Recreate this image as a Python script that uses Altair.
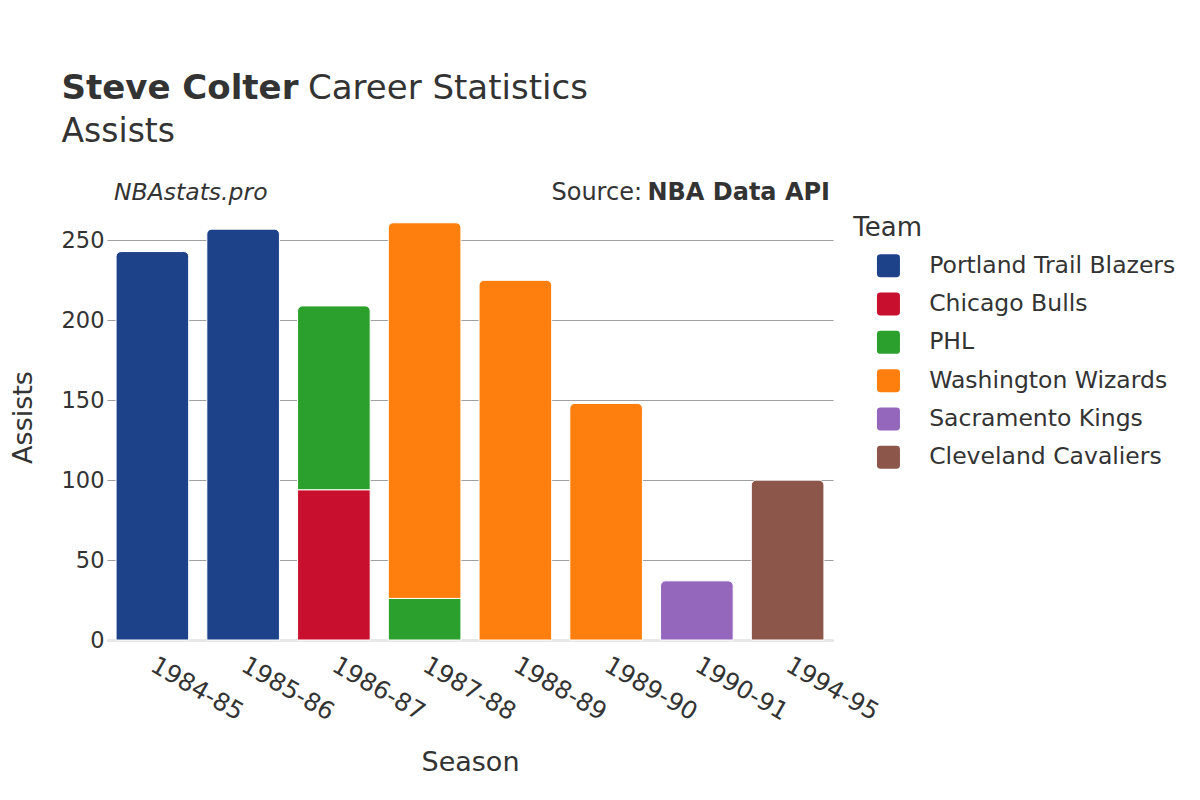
import altair as alt
import pandas as pd

# ---- data ----
seasons = ["1984-85", "1985-86", "1986-87", "1987-88", "1988-89", "1989-90", "1990-91", "1994-95"]
teams = ["Portland Trail Blazers", "Chicago Bulls", "PHL", "Washington Wizards",
         "Sacramento Kings", "Cleveland Cavaliers"]
team_colors = ["#1d428a", "#c8102e", "#2ca02c", "#ff7f0e", "#9467bd", "#8c564b"]

row_season = ["1984-85", "1985-86", "1986-87", "1986-87", "1987-88", "1987-88",
              "1988-89", "1989-90", "1990-91", "1994-95"]
row_team = ["Portland Trail Blazers", "Portland Trail Blazers", "Chicago Bulls", "PHL",
            "PHL", "Washington Wizards", "Washington Wizards", "Washington Wizards",
            "Sacramento Kings", "Cleveland Cavaliers"]
row_assists = [243, 257, 94, 115, 26, 235, 225, 148, 37, 100]

y_ticks = [0, 50, 100, 150, 200, 250]

# ---- table ----
df = pd.DataFrame({"Season": row_season, "Team": row_team, "Assists": row_assists})
df["order"] = df["Team"].map({t: i for i, t in enumerate(teams)})
last = df.groupby("Season")["order"].transform("max")
df["is_top"] = (df["order"] == last).astype(int)

FONT = "DejaVu Sans"
TXT = "#333333"
W, H = 726, 446
YMAX = 279

base = alt.Chart(df).transform_stack(
    stack="Assists", as_=["y0", "y1"], groupby=["Season"],
    sort=[alt.SortField("order", order="ascending")]
)

x_enc = alt.X("Season:N", sort=seasons, title="Season",
              scale=alt.Scale(paddingInner=0.2, paddingOuter=0.1),
              axis=alt.Axis(labelAngle=30, labelAlign="left", labelBaseline="top",
                            labelPadding=13, labelOffset=6, labelFontSize=24.5,
                            ticks=False, domainColor="#e8e8e8", domainWidth=3,
                            titleFontSize=27, titleFontWeight="normal",
                            titleX=W / 2, titleY=130, titleBaseline="alphabetic",
                            titleAlign="center", zindex=0, grid=False))
y_enc = alt.Y("y1:Q", title="Assists",
              scale=alt.Scale(domain=[0, YMAX], nice=False, zero=True),
              axis=alt.Axis(values=y_ticks, ticks=False, domain=False,
                            labelFontSize=22.5, labelPadding=3,
                            gridColor="#a0a0a0", gridWidth=1,
                            titleFontSize=27, titleFontWeight="normal",
                            titleX=-76, titleY=223, titleBaseline="alphabetic",
                            titleAlign="center", titleAngle=-90, zindex=0))

rounded_path = ("M -0.7 -1 L 0.7 -1 Q 1 -1 1 -0.7 L 1 0.7 Q 1 1 0.7 1 L -0.7 1 "
                "Q -1 1 -1 0.7 L -1 -0.7 Q -1 -1 -0.7 -1 Z")

color_enc = alt.Color("Team:N",
                      scale=alt.Scale(domain=teams, range=team_colors),
                      legend=alt.Legend(orient="none", legendX=769.7, legendY=60,
                                        title=None, symbolType=rounded_path,
                                        symbolSize=529, symbolStrokeWidth=0,
                                        symbolOpacity=1, labelLimit=400,
                                        labelFontSize=23.5, labelOffset=29,
                                        labelColor=TXT, rowPadding=13.3, padding=0))

bars_low = base.transform_filter("datum.is_top == 0").mark_bar(
    stroke="white", strokeWidth=1
).encode(x=x_enc, y=y_enc, y2="y0:Q", color=color_enc)

bars_top = base.transform_filter("datum.is_top == 1").mark_bar(
    stroke="white", strokeWidth=1, cornerRadiusTopLeft=5, cornerRadiusTopRight=5
).encode(x=x_enc, y=y_enc, y2="y0:Q", color=color_enc)

one = pd.DataFrame({"k": [0]})


def label(text, x, y, size, weight="normal", style="normal", align="left"):
    return alt.Chart(one).mark_text(
        fontSize=size, fontWeight=weight, fontStyle=style, align=align,
        baseline="alphabetic", color=TXT, font=FONT
    ).encode(x=alt.value(x), y=alt.value(y), text=alt.value(text))


texts = [
    label("Steve Colter", -45.5, -94.7, 34, weight="bold"),
    label("Career Statistics", 201, -94.7, 34),
    label("Assists", -45.5, -51.7, 33),
    label("NBAstats.pro", 7, 6, 23.5, style="italic"),
    label("NBA Data API", 723, 6, 24, weight="bold", align="right"),
    label("Source:", 535, 6, 24, align="right"),
    label("Team", 746.3, 42, 26),
]

chart = alt.layer(bars_low, bars_top, *texts).properties(
    width=W, height=H,
    autosize=alt.AutoSizeParams(type="none"),
    padding={"left": 99, "top": 186, "right": 359, "bottom": 152},
    background="white",
).configure(font=FONT).configure_view(stroke=None).configure_axis(
    labelColor=TXT, titleColor=TXT, labelFont=FONT, titleFont=FONT
).configure_legend(labelFont=FONT)

chart.save("out.html", embed_options={"renderer": "svg", "actions": False})
